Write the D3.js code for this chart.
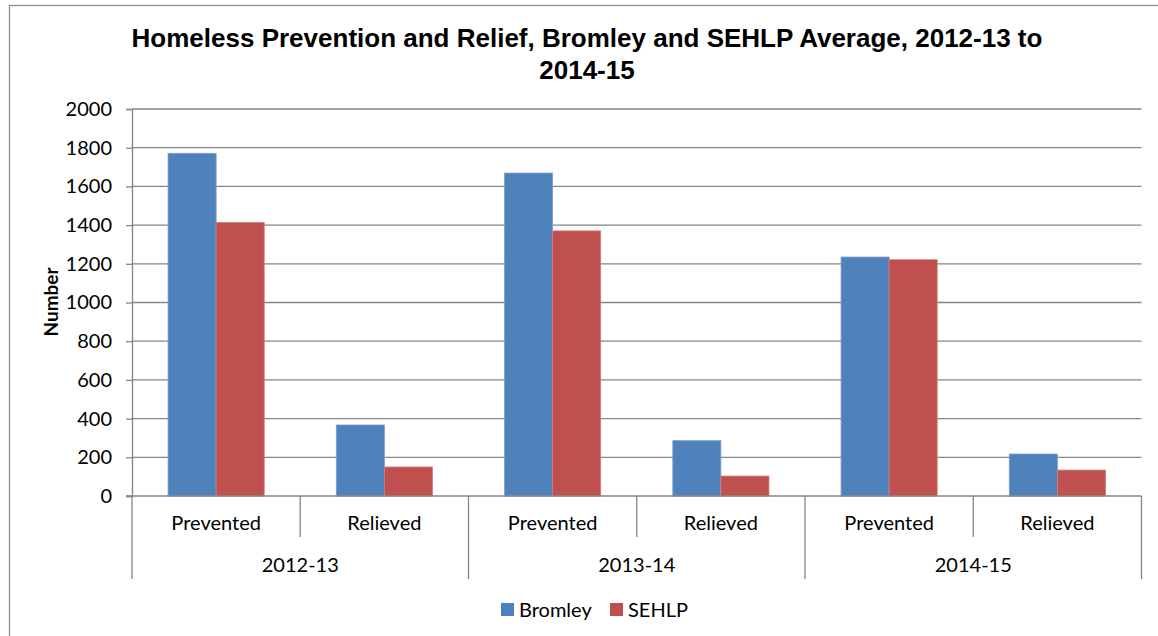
<!DOCTYPE html>
<html><head><meta charset="utf-8">
<script src="https://cdn.jsdelivr.net/npm/d3@7"></script>
<style>body{margin:0;background:#fff}svg{display:block}</style>
</head><body><svg id="c" width="1158" height="636"></svg>
<script>
const years = ["2012-13", "2013-14", "2014-15"];
const measures = ["Prevented", "Relieved"];
const series = ["Bromley", "SEHLP"];
const bromley = [1771, 367, 1669, 286, 1235, 217];
const sehlp = [1414, 150, 1370, 103, 1221, 134];
const yTicks = [0, 200, 400, 600, 800, 1000, 1200, 1400, 1600, 1800, 2000];
const colors = ["#4F81BD", "#C0504D"];
const titleLines = ["Homeless Prevention and Relief, Bromley and SEHLP Average, 2012-13 to", "2014-15"];

(function () {
const svg = d3.select("#c");
const font = "Lato, 'Open Sans', sans-serif";
const grid = "#868686";
const pLeft = 132, pRight = 1141.5, pTop = 109, pBottom = 496;

svg.append("rect").attr("x", 9.5).attr("y", 5.5).attr("width", 1200).attr("height", 700)
  .attr("fill", "none").attr("stroke", "#8c8c8c").attr("stroke-width", 1.3);

const cats = [];
years.forEach(yy => measures.forEach(m => cats.push(yy + "|" + m)));
const x = d3.scaleBand().domain(cats).range([pLeft, pRight]).padding(0);
const bw = x.bandwidth();
const barW = bw / 3.5;
const xs = d3.scaleBand().domain(series).range([bw / 2 - barW, bw / 2 + barW]).padding(0);
const y = d3.scaleLinear().domain([0, 2000]).range([pBottom, pTop]);

svg.append("g").selectAll("line").data(yTicks.filter(d => d > 0)).join("line")
  .attr("x1", pLeft).attr("x2", pRight).attr("y1", d => y(d)).attr("y2", d => y(d))
  .attr("stroke", grid).attr("stroke-width", 1.3);

const yAxis = svg.append("g").attr("transform", `translate(${pLeft},0)`)
  .call(d3.axisLeft(y).tickValues(yTicks).tickSize(6).tickPadding(14).tickFormat(d3.format("d")));
yAxis.select(".domain").attr("stroke", grid).attr("stroke-width", 1.3);
yAxis.selectAll(".tick line").attr("stroke", grid).attr("stroke-width", 1.3);
yAxis.selectAll("text").attr("font-family", font).attr("font-size", 20).attr("fill", "#000");

const data = cats.map((c, i) => ({ c, vals: [bromley[i], sehlp[i]] }));
const g = svg.append("g");
data.forEach(d => {
  series.forEach((s, j) => {
    g.append("rect")
      .attr("x", x(d.c) + xs(s)).attr("width", xs.bandwidth())
      .attr("y", y(d.vals[j])).attr("height", y(0) - y(d.vals[j]))
      .attr("fill", colors[j]).attr("stroke", j === 0 ? "#7d9fcf" : "#d07b79").attr("stroke-width", 0.8);
  });
});

svg.append("line").attr("x1", pLeft - 6).attr("x2", pRight).attr("y1", pBottom).attr("y2", pBottom)
  .attr("stroke", grid).attr("stroke-width", 1.3);

cats.forEach((c, i) => {
  const xx = x(c);
  const isGroup = i % 2 === 0;
  svg.append("line").attr("x1", xx).attr("x2", xx).attr("y1", pBottom).attr("y2", isGroup ? 579 : 537)
    .attr("stroke", grid).attr("stroke-width", 1.3);
});
svg.append("line").attr("x1", pRight).attr("x2", pRight).attr("y1", pBottom).attr("y2", 579)
  .attr("stroke", grid).attr("stroke-width", 1.3);

svg.append("g").selectAll("text").data(cats).join("text")
  .attr("x", d => x(d) + bw / 2).attr("y", 523).attr("dy", "0.35em")
  .attr("text-anchor", "middle").attr("font-family", font).attr("font-size", 20)
  .text(d => d.split("|")[1]);
svg.append("g").selectAll("text").data(years).join("text")
  .attr("x", d => x(d + "|" + measures[0]) + bw).attr("y", 565).attr("dy", "0.35em")
  .attr("text-anchor", "middle").attr("font-family", font).attr("font-size", 20)
  .text(d => d);

svg.append("text").attr("transform", "translate(51,302) rotate(-90)")
  .attr("text-anchor", "middle").attr("dy", "0.35em")
  .attr("font-family", font).attr("font-weight", "bold").attr("font-size", 19)
  .text("Number");

svg.append("g").selectAll("text").data(titleLines).join("text")
  .attr("x", 587).attr("y", (d, i) => 47 + i * 31.5)
  .attr("text-anchor", "middle").attr("font-family", "'Liberation Sans', Arial, sans-serif")
  .attr("font-weight", "bold").attr("font-size", 26)
  .text(d => d);

const legX = [501, 610];
series.forEach((s, j) => {
  svg.append("rect").attr("x", legX[j]).attr("y", 603).attr("width", 13).attr("height", 13).attr("fill", colors[j]);
  svg.append("text").attr("x", legX[j] + 18).attr("y", 609.5).attr("dy", "0.35em")
    .attr("font-family", font).attr("font-size", 20).text(s);
});
})();
</script></body></html>
